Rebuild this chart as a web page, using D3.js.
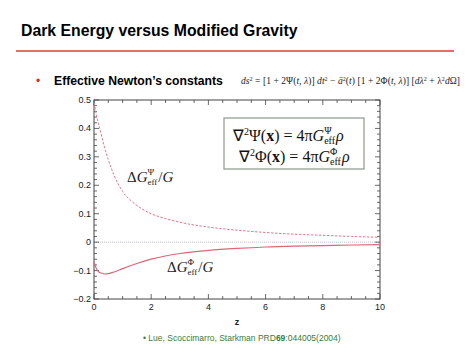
<!DOCTYPE html>
<html><head><meta charset="utf-8">
<script src="https://cdn.jsdelivr.net/npm/d3@7"></script>
<style>body{margin:0;background:#fff}svg{display:block}</style>
</head><body>
<svg id="c" width="474" height="355"></svg>
<script>
const zPsi   = [0, 0.1, 0.2, 0.35, 0.5, 0.7, 1, 1.3, 1.6, 2, 2.5, 3, 4, 5, 6, 7, 8, 9, 10];
const psiVals= [0.49, 0.44, 0.40, 0.34, 0.29, 0.236, 0.178, 0.145, 0.122, 0.1, 0.083, 0.07, 0.053, 0.042, 0.034, 0.028, 0.024, 0.02, 0.017];
const zPhi   = [0, 0.05, 0.1, 0.2, 0.4, 0.7, 1, 1.5, 2, 3, 4, 5, 6, 7, 8, 9, 10];
const phiVals= [-0.07, -0.085, -0.096, -0.107, -0.112, -0.105, -0.093, -0.075, -0.06, -0.04, -0.029, -0.022, -0.017, -0.014, -0.012, -0.01, -0.009];
const xTicks = [0, 2, 4, 6, 8, 10];
const yTicks = [-0.2, -0.1, 0, 0.1, 0.2, 0.3, 0.4, 0.5];

const svg = d3.select("#c");
const L=94, R=380, T=100, B=299;
const x = d3.scaleLinear().domain([0,10]).range([L,R]);
const y = d3.scaleLinear().domain([-0.2,0.5]).range([B,T]);

// Title
svg.append("text").attr("x",21).attr("y",36).attr("font-family","Liberation Sans, Arial, sans-serif")
  .attr("font-weight","bold").attr("font-size",15.8).attr("fill","#000").text("Dark Energy versus Modified Gravity");
svg.append("line").attr("x1",16).attr("x2",454).attr("y1",51).attr("y2",51).attr("stroke","#e23a3a").attr("stroke-width",1.5);

// Bullet
svg.append("text").attr("x",36).attr("y",85).attr("font-family","Liberation Sans, Arial, sans-serif")
  .attr("font-size",12).attr("fill","#d03030").text("•");
svg.append("text").attr("x",54).attr("y",85).attr("font-family","Liberation Sans, Arial, sans-serif")
  .attr("font-weight","bold").attr("font-size",12.2).attr("fill","#000").text("Effective Newton’s constants");

// header formula
const hf = svg.append("text").attr("x",241).attr("y",84).attr("font-family","Liberation Serif, Times New Roman, serif")
  .attr("font-size",9.5).attr("fill","#222");
hf.append("tspan").attr("font-style","italic").text("ds");
hf.append("tspan").attr("dy",-3).attr("font-size",6).text("2");
hf.append("tspan").attr("dy",3).text(" = [1 + 2Ψ(");
hf.append("tspan").attr("font-style","italic").text("t, λ");
hf.append("tspan").text(")] ");
hf.append("tspan").attr("font-style","italic").text("dt");
hf.append("tspan").attr("dy",-3).attr("font-size",6).text("2");
hf.append("tspan").attr("dy",3).text(" − ");
hf.append("tspan").attr("font-style","italic").text("ā");
hf.append("tspan").attr("dy",-3).attr("font-size",6).text("2");
hf.append("tspan").attr("dy",3).text("(");
hf.append("tspan").attr("font-style","italic").text("t");
hf.append("tspan").text(") [1 + 2Φ(");
hf.append("tspan").attr("font-style","italic").text("t, λ");
hf.append("tspan").text(")] [");
hf.append("tspan").attr("font-style","italic").text("dλ");
hf.append("tspan").attr("dy",-3).attr("font-size",6).text("2");
hf.append("tspan").attr("dy",3).text(" + λ");
hf.append("tspan").attr("dy",-3).attr("font-size",6).text("2");
hf.append("tspan").attr("dy",3).attr("font-style","italic").text("d");
hf.append("tspan").text("Ω]");
hf.attr("textLength",219).attr("lengthAdjust","spacing");

// zero line
svg.append("line").attr("x1",x(0)).attr("x2",x(10)).attr("y1",y(0)).attr("y2",y(0))
  .attr("stroke","#aab").attr("stroke-width",0.8).attr("stroke-dasharray","1,1");

// frame
svg.append("rect").attr("x",L).attr("y",T).attr("width",R-L).attr("height",B-T)
  .attr("fill","none").attr("stroke","#444").attr("stroke-width",1);

const ax = "#444";
const xMinor = d3.range(0,10.001,0.5);
const yMinor = d3.range(-0.2,0.5001,0.02);
xMinor.forEach(v=>{
  const major = Math.abs(v/2-Math.round(v/2))<1e-6;
  const len = major?5:3;
  svg.append("line").attr("x1",x(v)).attr("x2",x(v)).attr("y1",B).attr("y2",B-len).attr("stroke",ax).attr("stroke-width",0.8);
  svg.append("line").attr("x1",x(v)).attr("x2",x(v)).attr("y1",T).attr("y2",T+len).attr("stroke",ax).attr("stroke-width",0.8);
});
yMinor.forEach(v=>{
  const major = Math.abs(v*10-Math.round(v*10))<1e-6;
  const len = major?5:3;
  svg.append("line").attr("y1",y(v)).attr("y2",y(v)).attr("x1",L).attr("x2",L+len).attr("stroke",ax).attr("stroke-width",0.8);
  svg.append("line").attr("y1",y(v)).attr("y2",y(v)).attr("x1",R).attr("x2",R-len).attr("stroke",ax).attr("stroke-width",0.8);
});
xTicks.forEach(v=>{
  svg.append("text").attr("x",x(v)).attr("y",B+11).attr("text-anchor","middle")
   .attr("font-family","Liberation Sans, Arial, sans-serif").attr("font-size",9).attr("fill","#222").text(v);
});
yTicks.forEach(v=>{
  svg.append("text").attr("x",L-3).attr("y",y(v)+3).attr("text-anchor","end")
   .attr("font-family","Liberation Sans, Arial, sans-serif").attr("font-size",9).attr("fill","#222").text(d3.format("")(Math.round(v*10)/10));
});
svg.append("text").attr("x",237).attr("y",325).attr("text-anchor","middle")
   .attr("font-family","Liberation Sans, Arial, sans-serif").attr("font-weight","bold").attr("font-size",9).attr("fill","#222").text("z");

// curves
const line = d3.line().x(d=>x(d[0])).y(d=>y(d[1])).curve(d3.curveMonotoneX);
svg.append("path").attr("d",line(zPsi.map((z,i)=>[z,psiVals[i]]))).attr("fill","none")
  .attr("stroke","#e07a88").attr("stroke-width",1).attr("stroke-dasharray","2.5,1.5");
svg.append("path").attr("d",line(zPhi.map((z,i)=>[z,phiVals[i]]))).attr("fill","none")
  .attr("stroke","#dd6677").attr("stroke-width",1.2);

function gLabel(px,py,sym){
  const f="Liberation Serif, Times New Roman, serif";
  const t = svg.append("text").attr("x",px).attr("y",py).attr("font-family",f).attr("font-size",15).attr("fill","#222");
  t.append("tspan").text("Δ");
  t.append("tspan").attr("font-style","italic").text("G");
  const w = t.node().getComputedTextLength();
  svg.append("text").attr("x",px+w).attr("y",py-7).attr("font-family",f).attr("font-size",9).attr("fill","#222").text(sym);
  const s = svg.append("text").attr("x",px+w).attr("y",py+3).attr("font-family",f).attr("font-size",9).attr("fill","#222").text("eff");
  const w2 = s.node().getComputedTextLength();
  const t2 = svg.append("text").attr("x",px+w+w2+1).attr("y",py).attr("font-family",f).attr("font-size",15).attr("fill","#222");
  t2.append("tspan").text("/");
  t2.append("tspan").attr("font-style","italic").text("G");
}
gLabel(127,182,"Ψ");
gLabel(167,272,"Φ");

svg.append("rect").attr("x",224).attr("y",118).attr("width",140).attr("height",51)
  .attr("fill","#fff").attr("stroke","#8a9a8a").attr("stroke-width",1.2);
function eqLine(px,py,sym){
  const f="Liberation Serif, Times New Roman, serif";
  const t = svg.append("text").attr("x",px).attr("y",py).attr("font-family",f).attr("font-size",16).attr("fill","#111");
  t.append("tspan").text("∇");
  t.append("tspan").attr("dy",-6).attr("font-size",10).text("2");
  t.append("tspan").attr("dy",6).text(sym+"(");
  t.append("tspan").attr("font-weight","bold").text("x");
  t.append("tspan").text(") = 4π");
  t.append("tspan").attr("font-style","italic").text("G");
  const w = t.node().getComputedTextLength();
  svg.append("text").attr("x",px+w).attr("y",py-7).attr("font-family",f).attr("font-size",10).attr("fill","#111").text(sym);
  const s = svg.append("text").attr("x",px+w).attr("y",py+3).attr("font-family",f).attr("font-size",10).attr("fill","#111").text("eff");
  const w2 = s.node().getComputedTextLength();
  svg.append("text").attr("x",px+w+w2+1).attr("y",py).attr("font-family",f).attr("font-size",16).attr("font-style","italic").attr("fill","#111").text("ρ");
}
eqLine(233,141,"Ψ");
eqLine(239,162,"Φ");

const ct = svg.append("text").attr("x",143).attr("y",341).attr("font-family","Liberation Sans, Arial, sans-serif")
  .attr("font-size",8.5).attr("fill","#3d7a3d");
ct.append("tspan").text("• Lue, Scoccimarro, Starkman PRD");
ct.append("tspan").attr("font-weight","bold").text("69");
ct.append("tspan").text(":044005(2004)");
</script>
</body></html>
